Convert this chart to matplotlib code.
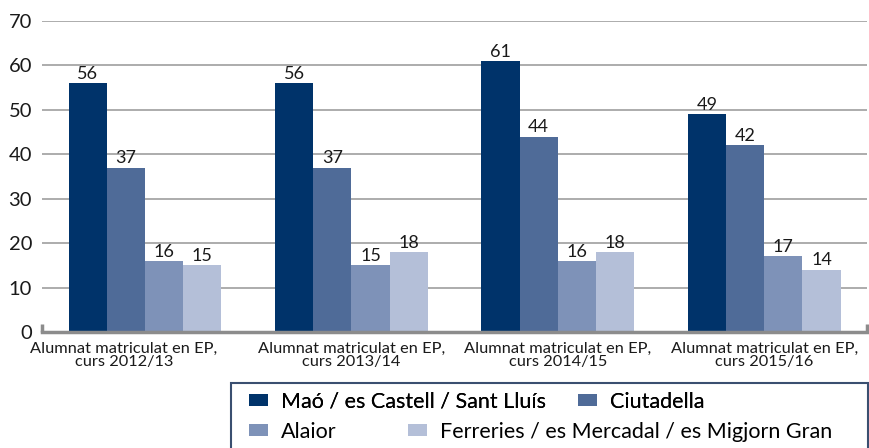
import matplotlib
matplotlib.use("Agg")
import matplotlib.pyplot as plt
import matplotlib.transforms as mtransforms
from matplotlib.patches import Rectangle
import numpy as np

plt.rcParams['font.family'] = ['Lato', 'DejaVu Sans']

categories = ["Alumnat matriculat en EP,\ncurs 2012/13", "Alumnat matriculat en EP,\ncurs 2013/14",
              "Alumnat matriculat en EP,\ncurs 2014/15", "Alumnat matriculat en EP,\ncurs 2015/16"]
series_names = ["Maó / es Castell / Sant Lluís", "Ciutadella", "Alaior",
                "Ferreries / es Mercadal / es Migjorn Gran"]
values = {
    "Maó / es Castell / Sant Lluís": [56, 56, 61, 49],
    "Ciutadella": [37, 37, 44, 42],
    "Alaior": [16, 15, 16, 17],
    "Ferreries / es Mercadal / es Migjorn Gran": [15, 18, 18, 14],
}
colors = ["#00336A", "#4F6B98", "#7E92B8", "#B4BFD8"]
yticks = [0, 10, 20, 30, 40, 50, 60, 70]

fig = plt.figure(figsize=(8.7, 4.48), dpi=100)
ax = fig.add_axes([0.048, 0.259, 0.949, 0.694])

x = np.arange(len(categories))
w = 0.185
handles = []
for i, name in enumerate(series_names):
    pos = x + (i - 1.5) * w
    bars = ax.bar(pos, values[name], width=w, color=colors[i], label=name, zorder=3)
    handles.append(bars)
    for b, v in zip(bars, values[name]):
        ax.text(b.get_x() + b.get_width() / 2, v + 0.3, str(v), ha='center', va='bottom',
                fontsize=13, color='#1a1a1a', zorder=4)

ax.set_xlim(-0.5, len(categories) - 0.5)
ax.set_ylim(0, 70)
ax.set_yticks(yticks)
ax.set_yticklabels([str(t) for t in yticks], fontsize=14.5, color='#1a1a1a')
ax.yaxis.grid(True, color='#A6A6A6', linewidth=1.3, zorder=0)
ax.set_axisbelow(True)
ax.tick_params(axis='y', length=0, pad=7)
ax.tick_params(axis='x', length=0, pad=7)
ax.set_xticks(x)
ax.set_xticklabels(categories, fontsize=11.8, color='#1a1a1a', linespacing=0.92)
# first category label sits a bit to the left in the reference
first = ax.get_xticklabels()[0]
first.set_transform(first.get_transform() + mtransforms.ScaledTranslation(-0.21, 0, fig.dpi_scale_trans))
for s in ['left', 'right', 'top']:
    ax.spines[s].set_visible(False)
ax.spines['bottom'].set_color('#8C8C8C')
ax.spines['bottom'].set_linewidth(2.5)
ax.spines['bottom'].set_zorder(5)
for xa in (0.0, 1.0):
    ax.plot([xa, xa], [0, 0.027], transform=ax.transAxes, color='#8C8C8C', lw=2.5,
            clip_on=False, zorder=5, solid_capstyle='butt')

# legend: two rows with different column spacing, one shared frame
common = dict(loc='center left', ncol=2, fontsize=15.5, frameon=False,
              handlelength=0.9, handleheight=0.5, handletextpad=0.6,
              borderpad=0, borderaxespad=0)
leg1 = fig.legend([handles[0], handles[1]], [series_names[0], series_names[1]],
                  bbox_to_anchor=(0.2862, 0.103), columnspacing=1.45, **common)
leg2 = fig.legend([handles[2], handles[3]], [series_names[2], series_names[3]],
                  bbox_to_anchor=(0.2862, 0.036), columnspacing=3.3, **common)
fig.add_artist(leg1)
frame = Rectangle((231 / 870, -0.05), (868 - 231) / 870, 0.05 + 1 - 383 / 448,
                  transform=fig.transFigure, fill=False, edgecolor='#3A4F70', lw=1.5)
fig.add_artist(frame)

fig.savefig("out.png", dpi=100)
